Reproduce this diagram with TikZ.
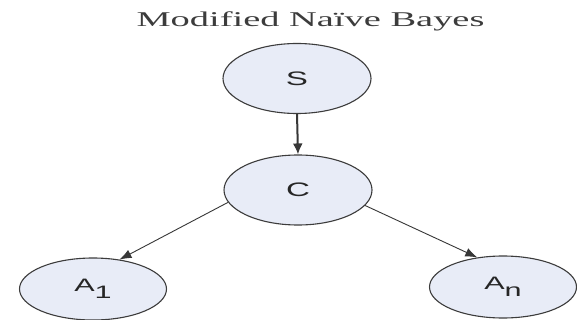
\documentclass[tikz,border=0pt]{standalone}
\usepackage{fontspec}
\usepackage{graphicx}
\setmainfont{Liberation Serif}
\newfontfamily\labfont{Liberation Sans}
\usetikzlibrary{shapes.geometric,arrows.meta}
\definecolor{nodefill}{RGB}{232,236,247}
\definecolor{nodeline}{RGB}{60,60,60}
\definecolor{edgecol}{RGB}{55,55,55}
\definecolor{titlecol}{RGB}{60,60,60}
\newcommand{\wide}[1]{\scalebox{1.7}[1]{#1}}
\begin{document}
\begin{tikzpicture}[x=1pt,y=-1pt,
  bnode/.style={ellipse, draw=nodeline, line width=1.1pt, fill=nodefill, inner sep=0pt,
    minimum width=148pt, minimum height=70pt, text=black!85,
    font=\labfont\fontsize{19.5}{20}\selectfont},
  anode/.style={bnode, minimum width=147pt, minimum height=62pt,
    font=\labfont\fontsize{18}{20}\selectfont},
  thickedge/.style={draw=edgecol, line width=2pt, -{Latex[length=11pt,width=10pt]}},
  thinedge/.style={draw=edgecol, line width=0.9pt, -{Latex[length=12pt,width=9pt]}},
  titlestyle/.style={inner sep=0pt, anchor=base, text=titlecol, font=\fontsize{21}{24}\selectfont}
]
\useasboundingbox (0,0) rectangle (577,320);
\fill[white] (0,0) rectangle (577,320);
\node[titlestyle] (title) at (310.5,27) {\scalebox{1.83}[1]{Modified Naïve Bayes}};
\node[bnode] (S) at (297,78.5) {\wide{S}};
\node[bnode] (C) at (298,190) {\wide{C}};
\node[anode] (A1) at (93,289) {\wide{A\raisebox{-6.5pt}{1}}};
\node[anode] (An) at (503,287) {\wide{A\raisebox{-6.5pt}{n}}};
\draw[thickedge] (S.south) -- (C.north);
\draw[thinedge] (C.190) -- (A1.48);
\draw[thinedge] (C.347) -- (An.131);
\end{tikzpicture}
\end{document}
